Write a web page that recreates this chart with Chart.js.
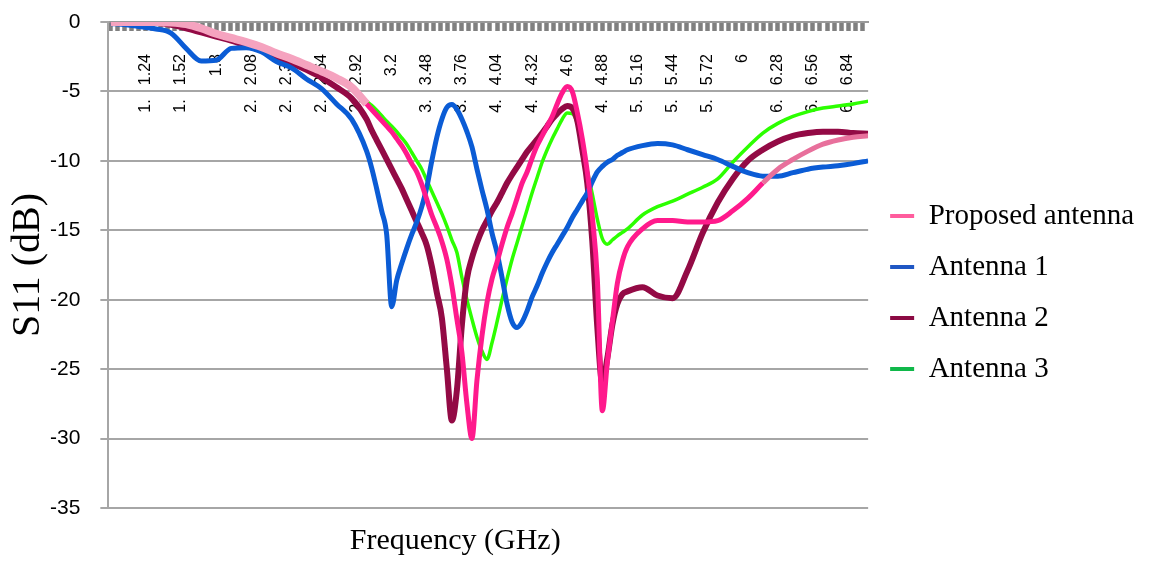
<!DOCTYPE html>
<html>
<head>
<meta charset="utf-8">
<title>S11 vs Frequency</title>
<script src="https://cdn.jsdelivr.net/npm/chart.js@4.4.1/dist/chart.umd.min.js"></script>
<style>
    html, body { margin: 0; padding: 0; background: #ffffff; }
    #grafico { display: block; }
</style>
</head>
<body>
<canvas id="grafico" width="1158" height="563"></canvas>
<script>
    // sweep points (GHz), dense around the resonances
    var frecuencias = [0.96, 1.08, 1.2, 1.32, 1.44, 1.56, 1.68, 1.8, 1.92, 2.04, 2.16, 2.28, 2.4, 2.52, 2.64, 2.76, 2.88,
        3.0, 3.04, 3.08, 3.12, 3.16, 3.2, 3.24, 3.28, 3.32, 3.36, 3.4, 3.44, 3.48, 3.52, 3.56, 3.6, 3.64, 3.68, 3.72, 3.76, 3.8, 3.84, 3.88, 3.92, 3.96,
        4.0, 4.04, 4.08, 4.12, 4.16, 4.2, 4.24, 4.28, 4.32, 4.36, 4.4, 4.44, 4.48, 4.52, 4.56, 4.6, 4.64, 4.68, 4.72, 4.76, 4.8, 4.84, 4.88, 4.92, 4.96, 5.0, 5.04,
        5.08, 5.2, 5.32, 5.44, 5.56, 5.68, 5.8, 5.92, 6.04, 6.16, 6.28, 6.4, 6.52, 6.64, 6.76, 6.88, 7.0];

    var proposedAntenna = [0, 0, 0, 0, -0.03, -0.15, -0.45, -0.85, -1.15, -1.45, -1.8, -2.25, -2.65, -3.1, -3.55, -4.05, -4.7,
        -5.9, -6.3, -6.7, -7.1, -7.5, -7.9, -8.4, -8.9, -9.5, -10.2, -10.8, -11.7, -12.8, -13.9, -14.8, -15.8, -17.1, -19.0, -21.4, -23.8, -27.5, -30.0, -25.8, -22.6, -20.2,
        -18.5, -17.3, -16.0, -14.8, -13.8, -12.7, -11.6, -10.8, -9.8, -8.9, -8.2, -7.5, -6.8, -5.9, -5.1, -4.65, -5.0, -6.5, -8.4, -10.8, -14.0, -18.5, -28.0, -24.5, -21.6, -18.8, -17.2,
        -16.2, -14.9, -14.3, -14.3, -14.4, -14.4, -14.3, -13.6, -12.7, -11.6, -10.6, -9.9, -9.3, -8.8, -8.5, -8.3, -8.2];

    var antenna1 = [-0.1, -0.2, -0.35, -0.5, -0.8, -1.9, -2.8, -2.75, -1.9, -1.85, -2.15, -2.85, -3.3, -4.1, -4.8, -5.9, -7.0,
        -9.3, -10.5, -12.0, -13.6, -15.3, -20.5, -18.6, -17.4, -16.3, -15.3, -14.4, -13.3, -11.9, -10.0, -8.3, -7.0, -6.15, -5.95, -6.3, -7.0, -7.9, -9.0, -10.6, -12.1, -13.5,
        -15.2, -16.6, -18.4, -20.3, -21.6, -22.0, -21.6, -20.8, -19.8, -19.0, -18.1, -17.3, -16.6, -16.0, -15.4, -14.8, -14.1, -13.5, -12.9, -12.3, -11.5, -10.8, -10.4, -10.1, -9.9, -9.6, -9.4,
        -9.2, -8.9, -8.75, -8.85, -9.2, -9.55, -9.9, -10.4, -10.85, -11.1, -11.1, -10.85, -10.6, -10.45, -10.35, -10.2, -10.0];

    var antenna2 = [0, 0, 0, -0.05, -0.2, -0.45, -0.75, -1.05, -1.35, -1.7, -2.05, -2.5, -2.95, -3.45, -4.0, -4.7, -5.5,
        -7.0, -7.8, -8.5, -9.2, -9.9, -10.6, -11.3, -12.0, -12.8, -13.6, -14.4, -15.2, -16.1, -17.6, -19.5, -21.3, -25.0, -28.7, -26.5, -21.8, -18.5, -17.0, -15.9, -15.0, -14.3,
        -13.6, -13.0, -12.3, -11.6, -11.0, -10.45, -9.9, -9.35, -8.9, -8.45, -8.0, -7.5, -7.0, -6.6, -6.25, -6.05, -6.2, -7.1, -9.2, -11.6, -15.8, -22.0, -26.0, -24.2, -21.8, -20.3, -19.6,
        -19.4, -19.1, -19.7, -19.9, -17.9, -15.2, -13.0, -11.3, -10.0, -9.2, -8.6, -8.2, -8.0, -7.9, -7.9, -8.0, -8.05];

    var antenna3 = [null, null, null, null, null, null, null, null, null, null, null, null, null, null, null, null, null,
        -5.7, -6.0, -6.35, -6.75, -7.15, -7.5, -7.9, -8.35, -8.8, -9.4, -10.0, -10.6, -11.4, -12.2, -13.0, -13.8, -14.7, -15.7, -16.6, -18.4, -20.0, -21.4, -22.7, -23.7, -24.3,
        -23.1, -21.6, -20.0, -18.5, -17.1, -15.9, -14.7, -13.5, -12.3, -11.2, -10.1, -9.2, -8.4, -7.7, -7.0, -6.55, -6.6, -7.3, -8.9, -10.7, -12.4, -14.2, -15.6, -16.0, -15.7, -15.4, -15.15,
        -14.9, -13.9, -13.3, -12.9, -12.4, -11.9, -11.3, -10.1, -9.0, -8.0, -7.3, -6.8, -6.45, -6.2, -6.05, -5.9, -5.7];

    var etiquetasX = ['1.24', '1.52', '1.8', '2.08', '2.36', '2.64', '2.92', '3.2', '3.48', '3.76', '4.04',
        '4.32', '4.6', '4.88', '5.16', '5.44', '5.72', '6', '6.28', '6.56', '6.84'];
    var marcasY = [0, -5, -10, -15, -20, -25, -30, -35];

    // category tick marks every 0.056 GHz (5 per label)
    var marcasX = [];
    for (var k = 0; k <= 107; k++) {
        marcasX.push(Math.round((0.96 + k * 0.056) * 1000) / 1000);
    }

    function puntos(serie) {
        return frecuencias.map(function (f, i) {
            return {x: f, y: serie[i]};
        });
    }

    function etiquetaPara(valor) {
        for (var i = 0; i < etiquetasX.length; i++) {
            if (Math.abs(parseFloat(etiquetasX[i]) - valor) < 0.001) return etiquetasX[i];
        }
        return '';
    }

    // the axes drawn inside the plot should not push the plot area around
    function sinRelleno(eje) {
        eje.paddingLeft = 0;
        eje.paddingRight = 0;
        eje.paddingTop = 0;
        eje.paddingBottom = 0;
    }

    // the frequency title sits a bit left of the plot centre in the original
    var tituloFrecuencia = {
        id: 'tituloFrecuencia',
        afterLayout: function (chart) {
            chart.scales.x2.left -= 66;
        }
    };

    var fuenteEje = {family: 'Liberation Sans', size: 16};

    new Chart(document.getElementById('grafico'), {
        type: 'line',
        data: {
            datasets: [{
                label: 'Proposed antenna',
                data: puntos(proposedAntenna),
                borderColor: '#ff1a8c',
                colorLeyenda: '#ff5c9d',
                borderWidth: 5,
                segment: {
                    borderColor: function (ctx) {
                        if (ctx.p1.parsed.x <= 3.0) return '#f5a3bf';
                        if (ctx.p0.parsed.x >= 6.16) return '#e8709c';
                        return undefined;
                    },
                    borderWidth: function (ctx) {
                        return ctx.p1.parsed.x <= 3.0 ? 8 : undefined;
                    }
                }
            }, {
                label: 'Antenna 1',
                data: puntos(antenna1),
                borderColor: '#0b5cd5',
                colorLeyenda: '#1f57c4',
                borderWidth: 5
            }, {
                label: 'Antenna 2',
                data: puntos(antenna2),
                borderColor: '#930a45',
                colorLeyenda: '#8b0a43',
                borderWidth: 6
            }, {
                label: 'Antenna 3',
                data: puntos(antenna3),
                borderColor: '#2cff00',
                colorLeyenda: '#10b84a',
                borderWidth: 3.5
            }]
        },
        plugins: [tituloFrecuencia],
        options: {
            responsive: false,
            animation: false,
            layout: {padding: {top: 22, left: 0, right: 14, bottom: 0}},
            elements: {
                point: {radius: 0},
                line: {cubicInterpolationMode: 'monotone'}
            },
            scales: {
                x: {
                    type: 'linear',
                    min: 0.94,
                    max: 7.0,
                    position: {y: 0},
                    afterBuildTicks: function (eje) {
                        eje.ticks = marcasX.map(function (v) { return {value: v}; });
                    },
                    afterFit: sinRelleno,
                    ticks: {
                        autoSkip: false,
                        minRotation: 90,
                        maxRotation: 90,
                        padding: 24,
                        color: '#000000',
                        font: fuenteEje,
                        callback: function (valor) { return etiquetaPara(valor); }
                    },
                    grid: {drawOnChartArea: false, drawTicks: true, tickLength: 8, tickWidth: 4.5, tickColor: '#808080'},
                    border: {display: true, color: '#9a9a9a', width: 2}
                },
                xg: {
                    type: 'linear',
                    axis: 'x',
                    min: 0.94,
                    max: 7.0,
                    position: {y: -5},
                    afterBuildTicks: function (eje) {
                        eje.ticks = etiquetasX.map(function (l) { return {value: parseFloat(l)}; });
                    },
                    afterFit: sinRelleno,
                    ticks: {
                        autoSkip: false,
                        minRotation: 90,
                        maxRotation: 90,
                        padding: 8,
                        color: '#000000',
                        font: fuenteEje,
                        callback: function (valor, i) {
                            return etiquetasX[i].length === 4 ? etiquetasX[i].slice(0, 2) : '';
                        }
                    },
                    grid: {display: false, drawTicks: false},
                    border: {display: false}
                },
                x2: {
                    type: 'linear',
                    axis: 'x',
                    position: 'bottom',
                    min: 0.94,
                    max: 7.0,
                    ticks: {display: false},
                    grid: {display: false, drawTicks: false},
                    border: {display: false},
                    title: {
                        display: true,
                        text: 'Frequency (GHz)',
                        color: '#000000',
                        font: {family: 'Liberation Serif', size: 30},
                        padding: {top: 15, bottom: 4}
                    }
                },
                y: {
                    position: 'left',
                    min: -35,
                    max: 0,
                    afterBuildTicks: function (eje) {
                        eje.ticks = marcasY.map(function (v) { return {value: v}; });
                    },
                    afterFit: function (eje) {
                        sinRelleno(eje);
                        // fit() reserves the tick padding twice, keep it once
                        eje.width -= eje.options.ticks.padding;
                    },
                    ticks: {
                        color: '#000000',
                        padding: 20,
                        font: {family: 'Liberation Sans', size: 21}
                    },
                    grid: {color: '#a6a6a6', lineWidth: 2, tickLength: 8},
                    border: {color: '#a6a6a6', width: 2},
                    title: {
                        display: true,
                        text: 'S11 (dB)',
                        color: '#000000',
                        font: {family: 'Liberation Serif', size: 40, lineHeight: 1.1},
                        padding: {top: 6, bottom: 0}
                    }
                }
            },
            plugins: {
                tooltip: {enabled: false},
                legend: {
                    position: 'right',
                    align: 'center',
                    labels: {
                        color: '#000000',
                        font: {family: 'Liberation Serif', size: 29},
                        boxWidth: 24,
                        boxHeight: 4,
                        padding: 22,
                        generateLabels: function (chart) {
                            var items = Chart.defaults.plugins.legend.labels.generateLabels(chart);
                            items.forEach(function (item) {
                                var ds = chart.data.datasets[item.datasetIndex];
                                item.fillStyle = ds.colorLeyenda;
                                item.lineWidth = 0;
                            });
                            return items;
                        }
                    }
                }
            }
        }
    });
</script>
</body>
</html>
